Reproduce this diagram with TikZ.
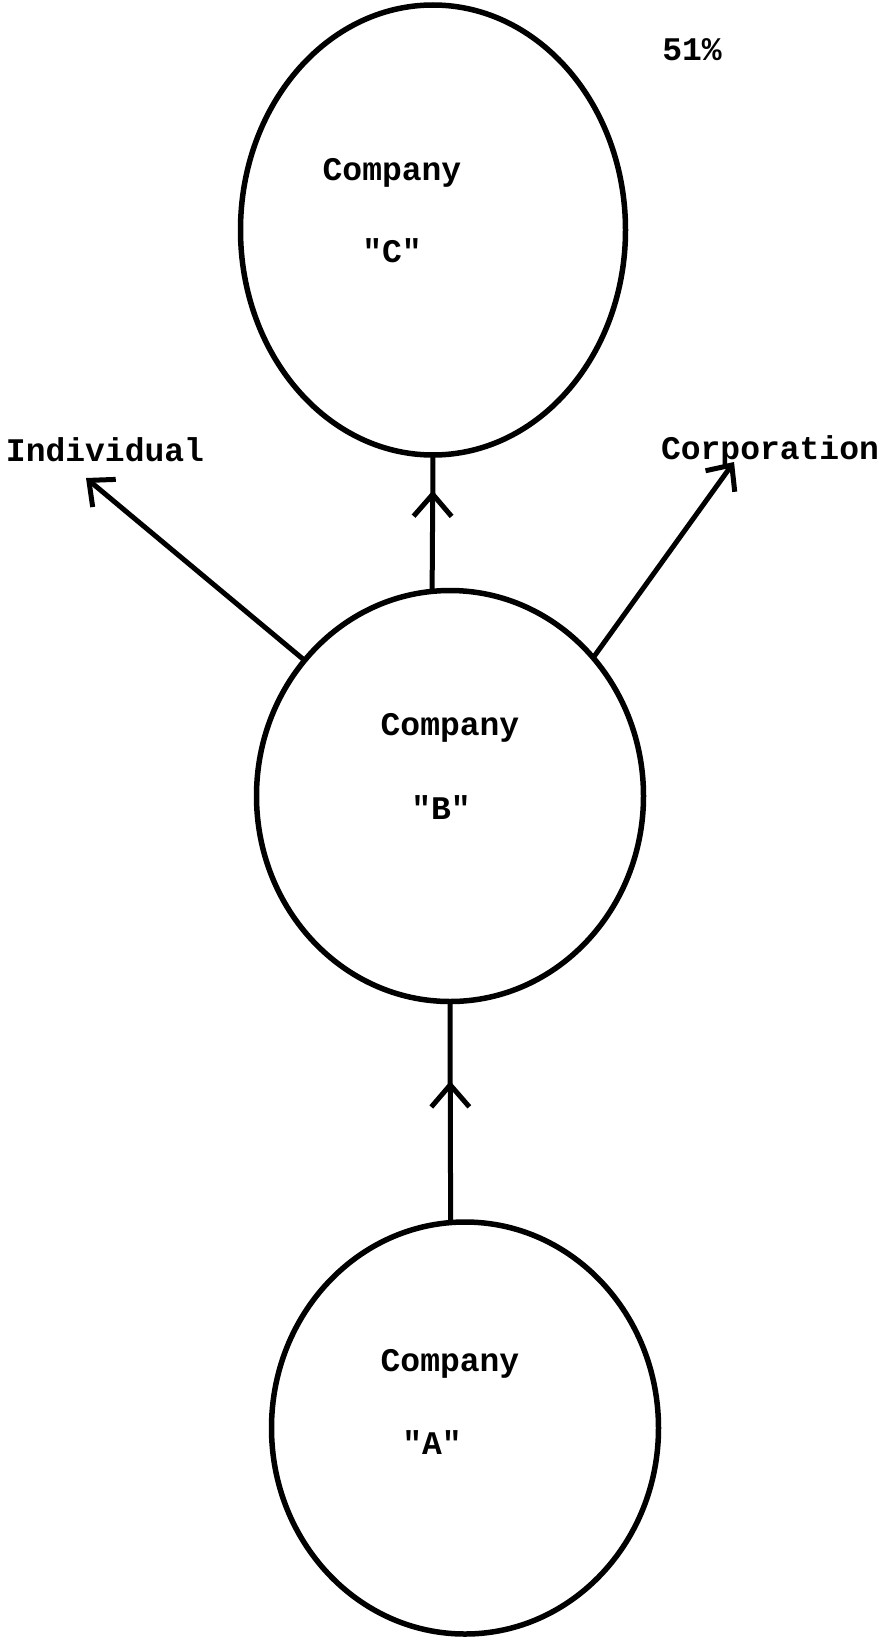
\documentclass[tikz,border=0pt]{standalone}
\usepackage{fontspec}
\setmonofont{Liberation Mono}
\usetikzlibrary{shapes.geometric,arrows.meta,decorations.markings}
\begin{document}
\begin{tikzpicture}[x=1pt,y=-1pt,
  company/.style={ellipse,draw,line width=5.5pt,inner sep=0pt,outer sep=0pt},
  lbl/.style={font=\ttfamily\bfseries\fontsize{33}{36}\selectfont,inner sep=0pt,anchor=base},
  conn/.style={line width=5pt},
  barb/.style={-{Straight Barb[length=20pt,width=36pt,line width=5pt]}},
  midarrow/.style={postaction={decorate,decoration={markings,
    mark=at position #1 with {\arrow{Straight Barb[length=22pt,width=38pt,line width=5pt]}}}}}]
\useasboundingbox[fill=white] (0,0) rectangle (888,1640);
% circles
\node[company,minimum width=385pt,minimum height=450pt] (C) at (433,230) {};
\node[company,minimum width=387pt,minimum height=411pt] (B) at (450,796) {};
\node[company,minimum width=387pt,minimum height=412pt] (A) at (465,1428) {};
% labels
\node[lbl] (Ctop) at (392,181) {Company};
\node[lbl] (Cbot) at (392,262) {"C"};
\node[lbl] (Btop) at (450,735) {Company};
\node[lbl] (Bbot) at (441,819) {"B"};
\node[lbl] (Atop) at (450,1371) {Company};
\node[lbl] (Abot) at (432,1454) {"A"};
\node[lbl] (ind) at (105,461) {Individual};
\node[lbl] (corp) at (770,459) {Corporation};
\node[lbl] (pct) at (692,61) {51\%};
% arrow ends
\coordinate (indEnd) at (86,478);
\coordinate (corpEnd) at (734,462);
% connectors
\draw[conn,midarrow=0.74] (B.95) -- (C.south);
\draw[conn,midarrow=0.64] (A.94) -- (B.south);
\draw[conn,barb] (B.137) -- (indEnd);
\draw[conn,barb] (B.44) -- (corpEnd);
\end{tikzpicture}
\end{document}
